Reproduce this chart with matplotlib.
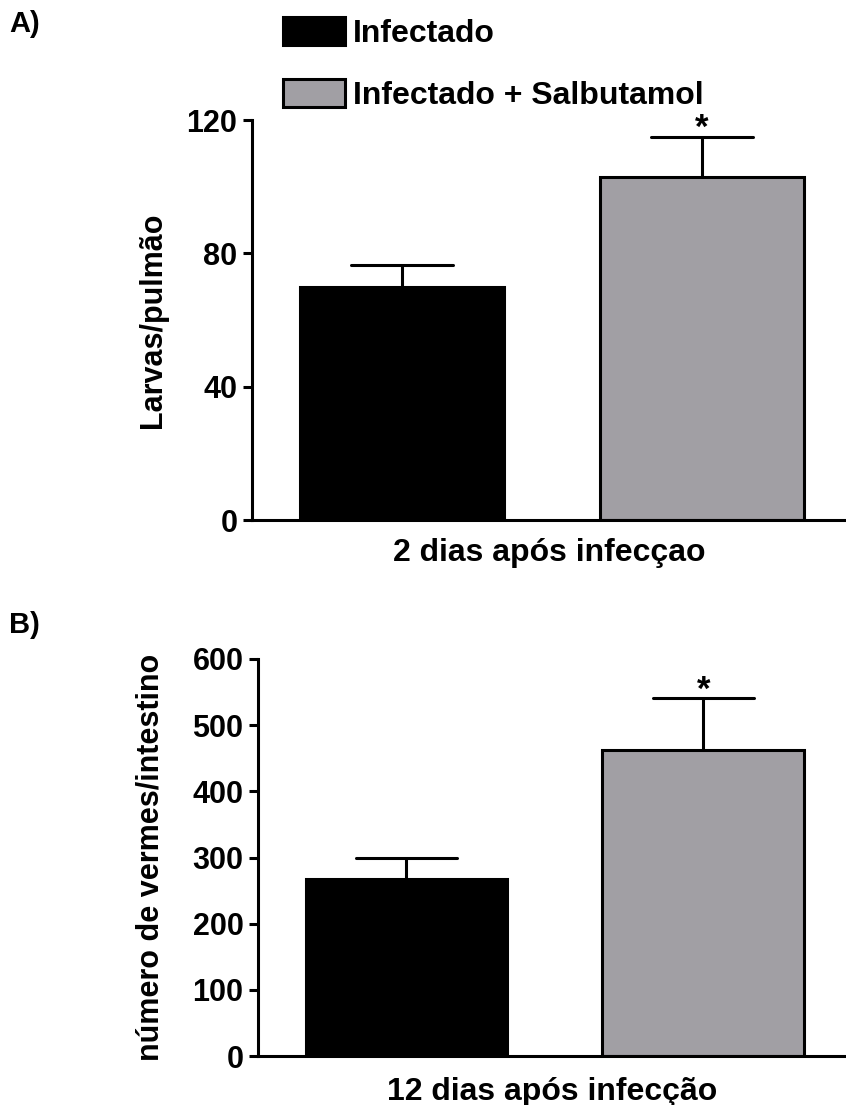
import numpy as np
import matplotlib
matplotlib.use('Agg')
import matplotlib.pyplot as plt
from matplotlib.patches import Patch

plt.rcParams['font.family'] = ['Liberation Sans', 'DejaVu Sans']
plt.rcParams['font.weight'] = 'bold'

# data
groups = ['Infectado', 'Infectado + Salbutamol']
colors = ['#000000', '#a19fa4']

larvas_mean = [70, 103]
larvas_sem = [6.5, 12]
larvas_sig = ['', '*']

vermes_mean = [268, 462]
vermes_sem = [32, 79]
vermes_sig = ['', '*']

fig = plt.figure(figsize=(8.46, 11.05), dpi=100)

LW = 2.2
xpos = np.array([0, 1])
width = 0.68


def panel(ax, means, sems, sigs, ylim, yticks, ylabel, xlabel):
    ax.bar(xpos, means, width=width, color=colors, edgecolor='black',
           linewidth=LW, zorder=2)
    tops = np.array(means) + np.array(sems)
    ax.vlines(xpos, means, tops, color='black', linewidth=LW, zorder=3)
    ax.hlines(tops, xpos - width / 4, xpos + width / 4, color='black',
              linewidth=LW, zorder=3, capstyle='round')
    # significance marks
    for x, t, s in zip(xpos, tops, sigs):
        if s:
            ax.annotate(s, (x, t), xytext=(0, -6), textcoords='offset points',
                        ha='center', va='bottom', fontsize=25, fontweight='bold')
    ax.set_xlim(-0.5, 1.48)
    ax.set_ylim(*ylim)
    ax.set_yticks(yticks)
    ax.set_xticks([])
    for side in ['top', 'right']:
        ax.spines[side].set_visible(False)
    for side in ['left', 'bottom']:
        ax.spines[side].set_linewidth(LW)
    ax.tick_params(axis='y', length=6.5, width=LW, pad=4, labelsize=22)
    for lab in ax.get_yticklabels():
        lab.set_fontweight('bold')
    ax.set_ylabel(ylabel, fontsize=22, fontweight='bold')
    ax.set_xlabel(xlabel, fontsize=23, fontweight='bold')


# panel A
axA = fig.add_axes([252 / 846, 1 - 520 / 1105, 594 / 846, 400 / 1105])
panel(axA, larvas_mean, larvas_sem, larvas_sig, (0, 120), [0, 40, 80, 120],
      'Larvas/pulmão', '2 dias após infecçao')
axA.yaxis.set_label_coords(-0.141, 0.5)
axA.xaxis.set_label_coords(0.5, -0.045)

# panel B
axB = fig.add_axes([258 / 846, 1 - 1056 / 1105, 588 / 846, 397 / 1105])
panel(axB, vermes_mean, vermes_sem, vermes_sig, (0, 600),
      [0, 100, 200, 300, 400, 500, 600],
      'número de vermes/intestino', '12 dias após infecção')
axB.yaxis.set_label_coords(-0.158, 0.5)
axB.xaxis.set_label_coords(0.5, -0.052)

# legend
handles = [Patch(facecolor=c, edgecolor='black', linewidth=LW) for c in colors]
fig.legend(handles, groups, loc='upper left', bbox_to_anchor=(283 / 846, 1 - 17 / 1105),
           frameon=False, handlelength=1.95, handleheight=0.95,
           handletextpad=0.25, labelspacing=0.95, borderpad=0, borderaxespad=0,
           prop={'weight': 'bold', 'size': 23})

fig.text(9 / 846, 1 - 24 / 1105, 'A)', fontsize=21, fontweight='bold', va='center')
fig.text(9 / 846, 1 - 625 / 1105, 'B)', fontsize=21, fontweight='bold', va='center')

fig.savefig('out.png', dpi=100)
